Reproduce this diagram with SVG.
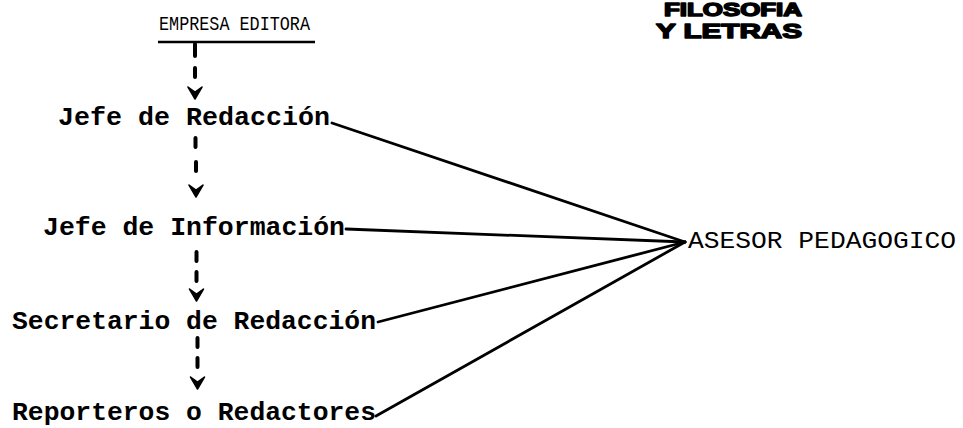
<svg xmlns="http://www.w3.org/2000/svg" width="963" height="428" viewBox="0 0 963 428">
<style>
.t{font-family:"Liberation Mono","DejaVu Sans Mono",monospace;font-weight:bold;fill:#000}
.h{font-family:"Liberation Mono","DejaVu Sans Mono",monospace;fill:#000}
.ln{stroke:#000;stroke-width:2.8;fill:none;stroke-linecap:round}
.dash{stroke:#000;stroke-width:4;stroke-linecap:round;fill:none}
.stamp{font-family:"Liberation Sans","DejaVu Sans",sans-serif;font-weight:900;fill:#000;stroke:#000;stroke-width:1.5;stroke-linejoin:round}
</style>
<defs>
<path id="ah" d="M-7,-2 L0,3 L7,-2 L0,10 Z" fill="#000" stroke="#000" stroke-width="1.5" stroke-linejoin="round"/>
</defs>
<rect width="963" height="428" fill="#fff"/>
<g id="stamp">
<text class="stamp" x="664" y="16" font-size="18" textLength="138" lengthAdjust="spacingAndGlyphs">FILOSOFIA</text>
<text class="stamp" x="656" y="38" font-size="21" textLength="146" lengthAdjust="spacingAndGlyphs">Y LETRAS</text>
</g>
<g id="empresa">
<text class="h" x="159" y="30" font-size="20" textLength="151" lengthAdjust="spacingAndGlyphs">EMPRESA EDITORA</text>
<line x1="158" y1="42" x2="315" y2="42" stroke="#000" stroke-width="2.5"/>
</g>
<g id="jefe-redaccion">
<text class="t" x="58" y="125" font-size="26" textLength="272" lengthAdjust="spacingAndGlyphs">Jefe de Redacción</text>
</g>
<g id="jefe-informacion">
<text class="t" x="43" y="235" font-size="26" textLength="302" lengthAdjust="spacingAndGlyphs">Jefe de Información</text>
</g>
<g id="secretario">
<text class="t" x="12" y="329" font-size="26" textLength="364" lengthAdjust="spacingAndGlyphs">Secretario de Redacción</text>
</g>
<g id="reporteros">
<text class="t" x="12" y="420" font-size="26" textLength="364" lengthAdjust="spacingAndGlyphs">Reporteros o Redactores</text>
</g>
<g id="asesor">
<text class="h" x="688" y="248" font-size="24" textLength="268" lengthAdjust="spacingAndGlyphs">ASESOR PEDAGOGICO</text>
</g>
<g id="connectors">
<path class="dash" d="M195,44 L195,56 M195,68 L195,77 M195.5,138 L195.5,147 M196,162 L196,171 M196.5,252 L196.5,261 M196.5,272 L196.5,281 M197.5,338 L197.5,347 M197.5,358 L197.5,367"/>
<use href="#ah" x="195" y="89"/>
<use href="#ah" x="196" y="187"/>
<use href="#ah" x="196.5" y="291"/>
<use href="#ah" x="197.5" y="379"/>
<path class="ln" d="M332,123 L685,242"/>
<path class="ln" d="M346,229 L685,242" stroke-width="1.8"/>
<path class="ln" d="M378,322 L685,242"/>
<path class="ln" d="M376,416 L685,242"/>
</g>
</svg>
